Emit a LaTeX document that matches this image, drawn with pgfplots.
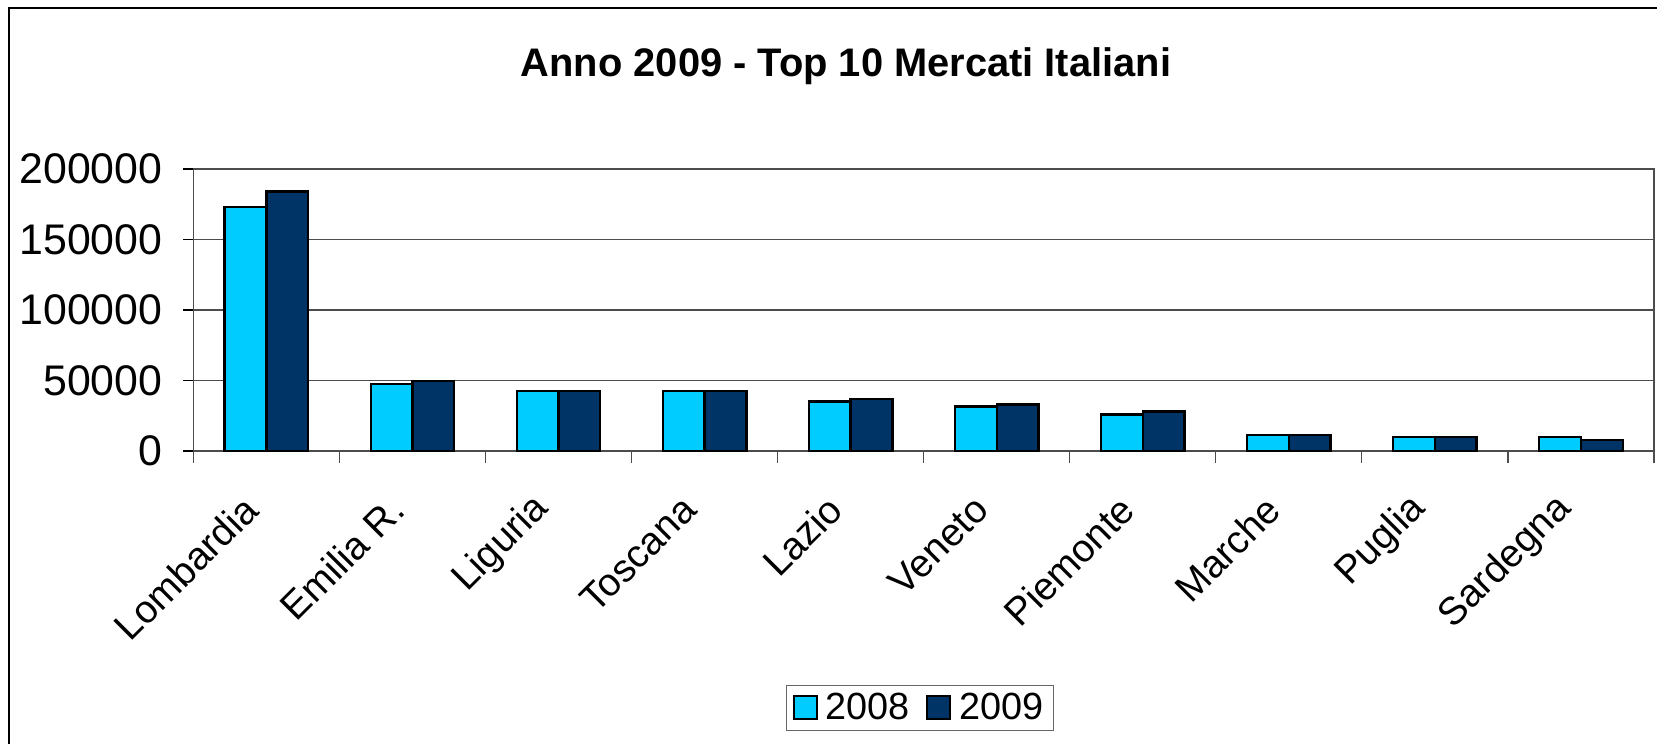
\documentclass[border=0pt]{standalone}
\usepackage{pgfplots}
\pgfplotsset{compat=1.18}
\usepackage{fontspec}
\setmainfont{Liberation Sans}

\definecolor{c2008}{HTML}{00CCFF}
\definecolor{c2009}{HTML}{003366}

\begin{document}
\begin{tikzpicture}
\useasboundingbox (-96.7bp,-146.5bp) rectangle (731.8bp,225.5bp);
\clip (-96.7bp,-146.5bp) rectangle (731.8bp,225.5bp);
% outer chart frame (right and bottom edges lie outside the picture)
\draw[black, line width=1bp] (-92.2bp,-160bp) -- (-92.2bp,221.5bp) -- (760bp,221.5bp);
\node[font=\fontsize{20}{24}\selectfont\bfseries] at (326.3bp,192.5bp) {Anno 2009 - Top 10 Mercati Italiani};

\begin{axis}[
  scale only axis,
  width=730.3bp, height=141bp,
  xmin=-0.5, xmax=9.5, ymin=0, ymax=200000,
  axis line style={black!70, line width=0.8bp},
  xtick={0,...,9},
  xticklabels={Lombardia,Emilia R.,Liguria,Toscana,Lazio,Veneto,Piemonte,Marche,Puglia,Sardegna},
  major x tick style={draw=none},
  minor xtick={-0.5,0.5,...,9.5},
  minor tick length=6bp,
  minor x tick style={black!70, line width=0.6bp},
  xtick pos=bottom, ytick pos=left,
  ytick={0,50000,100000,150000,200000},
  major tick length=5bp,
  tick align=outside,
  ytick style={black, line width=0.6bp},
  ymajorgrids,
  grid style={black!70, line width=0.7bp},
  scaled y ticks=false,
  /pgf/number format/fixed,
  /pgf/number format/1000 sep={},
  /pgf/number format/assume math mode=true,
  yticklabel style={font=\fontsize{21.5}{24}\selectfont, xshift=-7bp},
  xticklabel style={font=\fontsize{19.5}{22}\selectfont, xshift=-5.3bp, yshift=-18.5bp, rotate=45, anchor=east},
  bar width=0.2857,
  legend style={at={(0.4975,-0.911)}, anchor=center, draw=black!60, line width=0.6bp,
    font=\fontsize{19}{22}\selectfont, legend columns=2,
    /tikz/every odd column/.append style={column sep=2bp},
    /tikz/every even column/.append style={column sep=6bp}},
  legend image code/.code={\draw[#1, line width=1bp] (0bp,-5.75bp) rectangle (11.5bp,5.75bp);},
]
\addplot[ybar, bar shift=-0.14285, fill=c2008, draw=black, line width=1.2bp]
  coordinates {(0,173000) (1,47500) (2,42500) (3,42500) (4,35000) (5,31500) (6,26000) (7,11500) (8,9800) (9,9800)};
\addlegendentry{2008}
\addplot[ybar, bar shift=0.14285, fill=c2009, draw=black, line width=1.2bp]
  coordinates {(0,184000) (1,49500) (2,42500) (3,42500) (4,37000) (5,33000) (6,28000) (7,11500) (8,9800) (9,8000)};
\addlegendentry{2009}
\end{axis}
\end{tikzpicture}
\end{document}
